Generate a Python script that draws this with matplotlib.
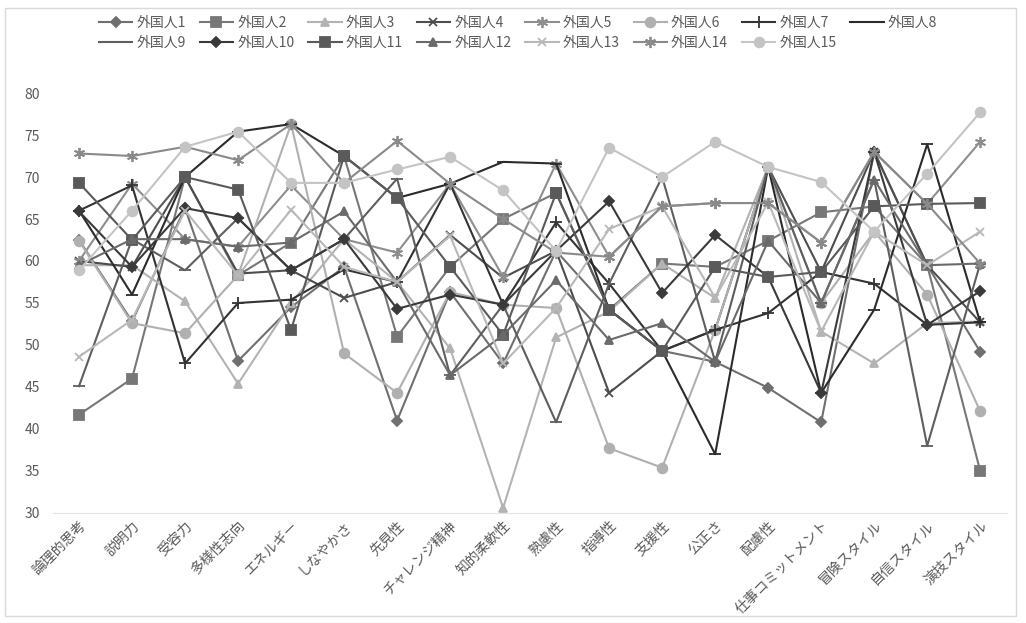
import matplotlib.pyplot as plt
from matplotlib.patches import Rectangle
import numpy as np

plt.rcParams['font.family'] = ['Noto Sans CJK JP', 'DejaVu Sans']

categories = ['論理的思考', '説明力', '受容力', '多様性志向', 'エネルギー', 'しなやかさ',
              '先見性', 'チャレンジ精神', '知的柔軟性', '熟慮性', '指導性', '支援性',
              '公正さ', '配慮性', '仕事コミットメント', '冒険スタイル', '自信スタイル', '演技スタイル']

s1 = [62.5, 52.8, 66.3, 48.1, 54.5, 59.3, 41.0, 56.3, 47.8, 61.2, 54.2, 49.3, 48.0, 44.9, 40.8, 73.0, 59.5, 49.2]
s2 = [41.7, 46.0, 70.0, 58.3, 62.2, 72.5, 51.0, 59.3, 65.0, 68.1, 54.2, 59.7, 59.3, 62.4, 65.8, 66.5, 59.5, 35.0]
s3 = [59.5, 59.5, 55.2, 45.4, 55.0, 62.6, 57.5, 49.6, 30.6, 50.9, 54.0, 59.7, 55.6, 71.2, 51.6, 47.8, 52.6, 52.8]
s4 = [60.0, 59.3, 70.0, 58.5, 58.9, 55.6, 57.5, 63.1, 58.0, 61.2, 44.3, 49.3, 51.8, 71.2, 58.7, 73.0, 59.5, 52.7]
s5 = [60.0, 69.2, 62.6, 61.7, 69.0, 62.6, 61.0, 69.2, 58.1, 71.6, 60.5, 66.5, 66.9, 66.9, 62.2, 73.0, 66.8, 74.2]
s6 = [62.4, 52.6, 51.4, 58.3, 76.3, 49.0, 44.3, 56.3, 54.8, 54.4, 37.7, 35.4, 51.8, 71.2, 55.0, 63.5, 56.0, 42.1]
s7 = [66.0, 69.0, 47.8, 55.0, 55.4, 59.0, 57.5, 69.2, 54.8, 64.6, 57.3, 49.3, 51.8, 53.8, 58.7, 57.3, 52.4, 52.7]
s8 = [66.0, 56.0, 70.0, 75.4, 76.3, 72.5, 67.5, 69.2, 71.8, 71.6, 54.2, 49.3, 37.0, 71.2, 44.3, 54.2, 73.9, 52.7]
s9 = [45.1, 62.6, 58.9, 65.1, 58.9, 62.6, 69.8, 46.4, 54.8, 40.8, 57.3, 70.0, 48.0, 71.2, 55.0, 69.7, 38.0, 59.7]
s10 = [65.9, 59.3, 66.3, 65.1, 58.9, 62.6, 54.3, 56.0, 54.8, 61.2, 67.1, 56.2, 63.1, 58.1, 44.3, 73.0, 52.4, 56.4]
s11 = [69.3, 62.5, 70.0, 68.5, 51.8, 72.5, 67.5, 59.3, 51.2, 68.1, 54.2, 49.3, 59.3, 58.1, 58.7, 66.5, 66.8, 66.9]
s12 = [59.5, 62.6, 62.6, 61.7, 62.2, 65.9, 57.5, 46.4, 51.2, 57.7, 50.6, 52.6, 48.0, 62.4, 55.0, 69.7, 59.5, 59.7]
s13 = [48.6, 53.0, 66.0, 58.3, 66.1, 59.3, 57.5, 63.0, 47.8, 54.4, 63.8, 66.5, 55.6, 67.0, 51.6, 63.5, 59.5, 63.5]
s14 = [72.8, 72.5, 73.6, 72.0, 76.3, 69.3, 74.3, 69.2, 65.0, 61.0, 60.5, 66.5, 66.9, 66.9, 62.2, 73.0, 66.8, 59.7]
s15 = [58.9, 66.0, 73.6, 75.4, 69.3, 69.3, 70.9, 72.4, 68.4, 61.2, 73.5, 70.0, 74.2, 71.2, 69.4, 63.5, 70.4, 77.7]

names = ['外国人%d' % (i + 1) for i in range(15)]
series = [s1, s2, s3, s4, s5, s6, s7, s8, s9, s10, s11, s12, s13, s14, s15]

asterisk = (6, 2, 0)
styles = [
    ('#6f6f6f', 'D', 5),
    ('#777777', 's', 6.5),
    ('#b3b3b3', '^', 6),
    ('#4d4d4d', 'x', 6),
    ('#8e8e8e', asterisk, 8),
    ('#b0b0b0', 'o', 7),
    ('#333333', '+', 8),
    ('#2b2b2b', '_', 8),
    ('#5e5e5e', '_', 8),
    ('#3a3a3a', 'D', 5),
    ('#5a5a5a', 's', 6.5),
    ('#6a6a6a', '^', 6),
    ('#b8b8b8', 'x', 6),
    ('#8a8a8a', asterisk, 8),
    ('#c4c4c4', 'o', 7),
]

fig = plt.figure(figsize=(10.26, 6.23), dpi=100)
ax = fig.add_axes([0.0512, 0.1766, 0.930, 0.6741])

x = np.arange(len(categories))
handles = []
for vals, name, (col, mk, ms) in zip(series, names, styles):
    h, = ax.plot(x, vals, color=col, lw=1.5, marker=mk, markersize=ms,
                 markerfacecolor=col, markeredgecolor=col, markeredgewidth=1.3,
                 label=name)
    handles.append(h)

ax.set_xlim(-0.5, len(categories) - 0.5)
ax.set_ylim(30, 80)
ax.set_yticks(np.arange(30, 81, 5))
ax.set_xticks(x)
ax.set_xticklabels(categories, rotation=45, ha='right', rotation_mode='anchor',
                   fontsize=10, color='#595959')
ax.tick_params(axis='y', labelsize=10, labelcolor='#595959', length=0, pad=9)
ax.tick_params(axis='x', length=0, pad=4)
for side in ['top', 'right', 'left']:
    ax.spines[side].set_visible(False)
ax.spines['bottom'].set_color('#e2e2e2')

# legend rows filled left to right, 8 then 7
order = [0, 8, 1, 9, 2, 10, 3, 11, 4, 12, 5, 13, 6, 14, 7]
fig.legend([handles[i] for i in order], [names[i] for i in order],
           loc='upper center', bbox_to_anchor=(0.505, 0.995), ncol=8, frameon=False,
           fontsize=10, labelcolor='#595959', handlelength=2.4, handletextpad=0.3,
           columnspacing=1.0, labelspacing=0.45)

fig.patches.append(Rectangle((0.005, 0.012), 0.985, 0.975, transform=fig.transFigure,
                             fill=False, edgecolor='#d9d9d9', lw=1))

fig.savefig('out.png', dpi=100)
